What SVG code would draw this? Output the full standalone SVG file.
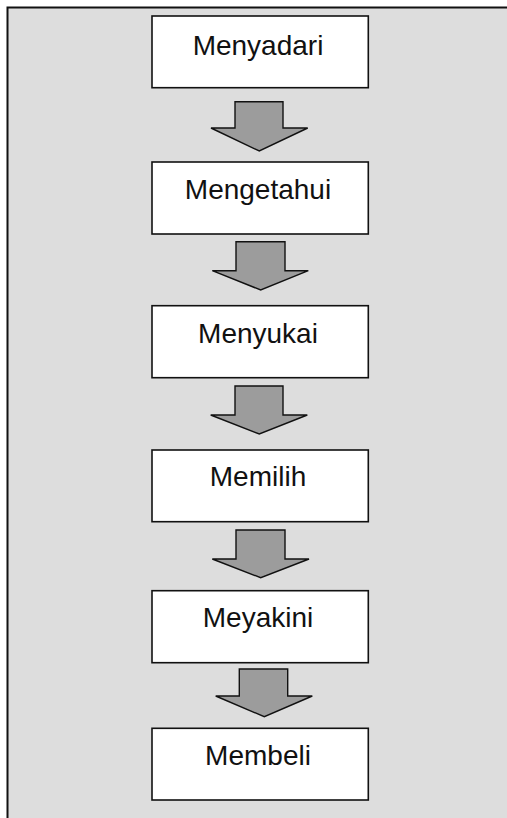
<svg xmlns="http://www.w3.org/2000/svg" width="507" height="818" viewBox="0 0 507 818">
<style>
.box{fill:#ffffff;stroke:#111111;stroke-width:1.6}
.lbl{font-family:"Liberation Sans",Arial,sans-serif;font-size:28px;fill:#111111;text-anchor:middle}
.arr{fill:#9c9c9c;stroke:#111111;stroke-width:1.4;stroke-linejoin:miter}
</style>
<rect x="0" y="0" width="507" height="818" fill="#ffffff"/>
<rect x="7.5" y="7.5" width="505" height="820" fill="#dddddd" stroke="#111111" stroke-width="2"/>
<g id="connectors">
<polygon class="arr" points="235,101.7 283,101.7 283,128 307.7,128 259.3,151 211,128 235,128"/>
<polygon class="arr" points="236,241.7 285,241.7 285,270.7 308.3,270.7 260.7,290 212.3,270.7 236,270.7"/>
<polygon class="arr" points="235,386 283,386 283,415 307.3,415 259.3,434 210.7,415 235,415"/>
<polygon class="arr" points="236,530 285,530 285,559 309,559 260.7,577.7 212.3,559 236,559"/>
<polygon class="arr" points="239.3,669 287.7,669 287.7,696 312.3,696 264.3,716.7 215.7,696 239.3,696"/>
</g>
<g id="n1"><rect class="box" x="152" y="16" width="216.3" height="71.7"/><text class="lbl" x="258" y="55">Menyadari</text></g>
<g id="n2"><rect class="box" x="152" y="162" width="216.3" height="72"/><text class="lbl" x="258" y="199.3">Mengetahui</text></g>
<g id="n3"><rect class="box" x="152" y="305.7" width="216.3" height="72"/><text class="lbl" x="258" y="342.7">Menyukai</text></g>
<g id="n4"><rect class="box" x="152" y="450" width="216.3" height="71.7"/><text class="lbl" x="258" y="486">Memilih</text></g>
<g id="n5"><rect class="box" x="152" y="590.7" width="216.3" height="72"/><text class="lbl" x="258" y="626.7">Meyakini</text></g>
<g id="n6"><rect class="box" x="152" y="728.3" width="216.3" height="71.7"/><text class="lbl" x="258" y="765">Membeli</text></g>
</svg>
